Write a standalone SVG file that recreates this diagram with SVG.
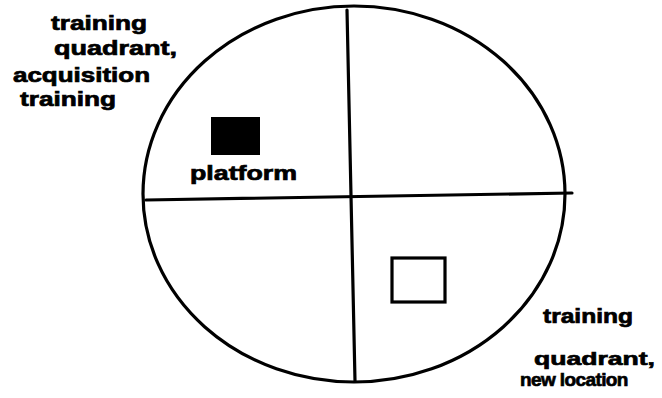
<svg xmlns="http://www.w3.org/2000/svg" width="662" height="398" viewBox="0 0 662 398">
<style>
.ln{fill:none;stroke:#000;stroke-width:3.2;stroke-linecap:round}
.t{font-family:"Liberation Sans",Arial,sans-serif;font-weight:bold;font-size:20px;fill:#000;stroke:#000;stroke-width:0.7}
.s{font-size:19px}
</style>
<rect width="662" height="398" fill="#fff"/>
<g id="pool">
<ellipse class="ln" cx="354" cy="194" rx="211" ry="188"/>
</g>
<g id="dividers">
<path class="ln" d="M146 200 L572 193"/>
<path class="ln" d="M347 10 L355 381"/>
</g>
<g id="platform">
<rect x="211" y="117" width="49" height="38" fill="#000"/>
<text class="t" x="190" y="180" textLength="107" lengthAdjust="spacingAndGlyphs">platform</text>
</g>
<g id="new-location">
<rect x="392" y="258" width="53" height="44" fill="none" stroke="#000" stroke-width="3.2"/>
</g>
<g id="label-acquisition">
<text class="t" x="51" y="30" textLength="96" lengthAdjust="spacingAndGlyphs">training</text>
<text class="t" x="54" y="55" textLength="123" lengthAdjust="spacingAndGlyphs">quadrant,</text>
<text class="t" x="13" y="82" textLength="137" lengthAdjust="spacingAndGlyphs">acquisition</text>
<text class="t" x="20" y="106" textLength="96" lengthAdjust="spacingAndGlyphs">training</text>
</g>
<g id="label-new">
<text class="t" x="543" y="323" textLength="90" lengthAdjust="spacingAndGlyphs">training</text>
<text class="t s" x="534" y="365" textLength="121" lengthAdjust="spacingAndGlyphs">quadrant,</text>
<text class="t s" x="520" y="386" letter-spacing="-0.6">new location</text>
</g>
</svg>
